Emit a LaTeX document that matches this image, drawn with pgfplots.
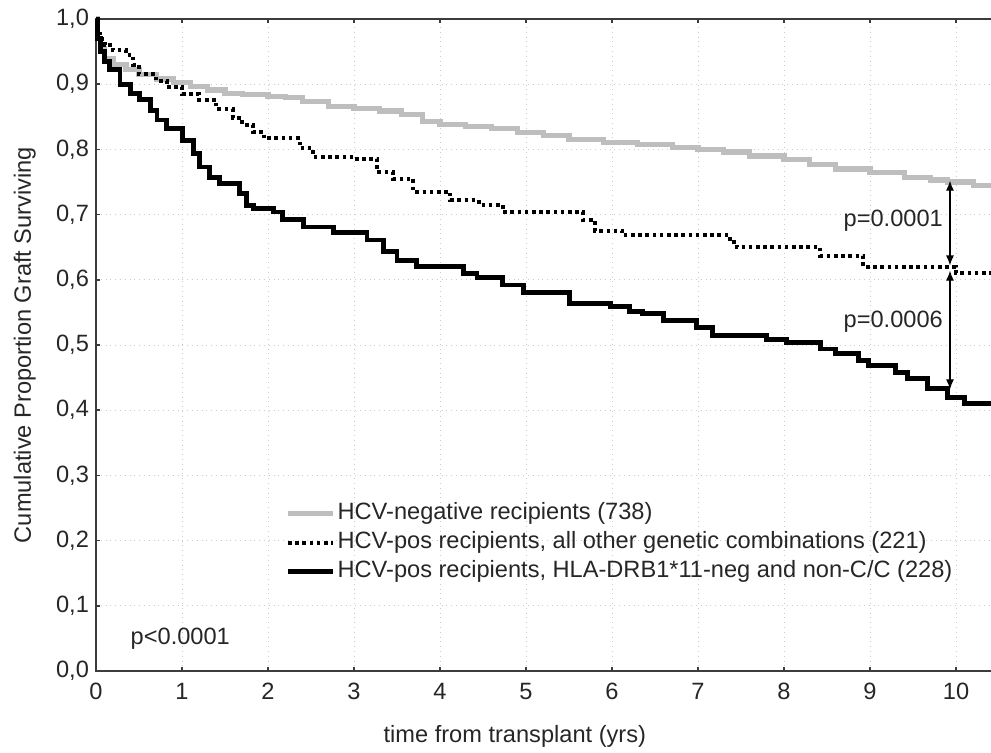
\documentclass[border=0pt]{standalone}
\usepackage{pgfplots}
\pgfplotsset{compat=1.18}
\usetikzlibrary{arrows.meta}
\usepackage{fontspec}
\setmainfont{Liberation Sans}
\definecolor{axgray}{RGB}{60,60,60}
\definecolor{negline}{RGB}{190,190,190}
\newcommand{\cf}{\fontsize{11.8}{13}\selectfont}
\begin{document}
\begin{tikzpicture}
\begin{axis}[
  name=ax,
  scale only axis,
  width=451.5pt, height=326pt,
  xmin=0, xmax=10.5, ymin=0, ymax=1,
  xtick={0,1,...,10}, ytick={0,0.1,...,1.0},
  /pgf/number format/assume math mode=true,
  yticklabel style={/pgf/number format/.cd, use comma, fixed, fixed zerofill, precision=1},
  xticklabel style={yshift=-2.5pt},
  tick label style={font=\cf, text=black!85},
  tick style={axgray, line width=0.8pt},
  major tick length=2pt,
  axis line style={axgray, line width=1pt},
  grid=major,
  major grid style={dotted, gray!40, line width=0.4pt},
  clip=false,
  legend cell align=left,
  legend style={draw=none, fill=none, inner sep=0pt, at={(axis cs:2.198,0.262)}, anchor=north west,
    font=\cf, row sep=1.3pt, text=black!85,
    nodes={inner sep=1pt, text height=8.6pt, text depth=2.6pt}},
  legend image code/.code={\draw[#1] (0pt,0pt) -- (22.5pt,0pt);},
]
\addplot[const plot, negline, line width=2.6pt] coordinates {
(0,1.0) (0.02,0.97) (0.05,0.955) (0.1,0.94) (0.2,0.93) (0.35,0.922) (0.5,0.915) (0.7,0.908) (0.9,0.902)
(1.1,0.896) (1.3,0.891) (1.5,0.886) (1.7,0.884) (2.0,0.881) (2.2,0.879) (2.4,0.873) (2.7,0.866) (3.0,0.863)
(3.3,0.859) (3.55,0.853) (3.8,0.843) (4.0,0.838) (4.3,0.835) (4.6,0.832) (4.9,0.826) (5.2,0.821) (5.5,0.815)
(5.9,0.810) (6.3,0.807) (6.7,0.803) (7.0,0.800) (7.3,0.796) (7.6,0.790) (8.0,0.784) (8.3,0.777) (8.6,0.770)
(9.0,0.765) (9.4,0.757) (9.7,0.753) (9.9,0.750) (10.2,0.744) (10.5,0.744)
};
\addlegendentry{HCV-negative recipients (738)}
\addplot[const plot, black, line width=2pt, dash pattern=on 1.8pt off 1.8pt] coordinates {
(0,0.985) (0.05,0.97) (0.1,0.96) (0.2,0.952) (0.35,0.945) (0.43,0.93) (0.5,0.915) (0.7,0.905) (0.82,0.895)
(1.0,0.885) (1.2,0.876) (1.4,0.862) (1.59,0.848) (1.7,0.838) (1.82,0.827) (1.95,0.817) (2.37,0.802) (2.52,0.789)
(3.0,0.786) (3.27,0.765) (3.45,0.755) (3.69,0.735) (4.12,0.722) (4.45,0.715) (4.73,0.704)
(5.66,0.692) (5.8,0.675) (6.12,0.668) (7.37,0.658) (7.45,0.650) (8.42,0.637) (8.92,0.620)
(10.0,0.61) (10.5,0.61)
};
\addlegendentry{HCV-pos recipients, all other genetic combinations (221)}
\addplot[const plot, black, line width=2.4pt] coordinates {
(0,1.0) (0.02,0.97) (0.05,0.95) (0.1,0.935) (0.16,0.922) (0.28,0.90) (0.4,0.886) (0.51,0.876) (0.63,0.86)
(0.71,0.845) (0.82,0.832) (1.01,0.814) (1.13,0.794) (1.2,0.773) (1.32,0.757) (1.44,0.748) (1.67,0.732)
(1.75,0.714) (1.83,0.709) (2.06,0.704) (2.17,0.692) (2.41,0.681) (2.76,0.672) (3.15,0.661)
(3.34,0.643) (3.5,0.63) (3.73,0.620) (4.27,0.61) (4.43,0.603) (4.73,0.592)
(4.97,0.58) (5.51,0.564) (5.98,0.559) (6.2,0.551) (6.35,0.548) (6.6,0.538) (6.98,0.527) (7.17,0.515)
(7.8,0.509) (8.03,0.504) (8.42,0.494) (8.6,0.487) (8.87,0.476) (8.98,0.468) (9.3,0.458) (9.44,0.448)
(9.67,0.433) (9.9,0.42) (10.1,0.41) (10.5,0.41)
};
\addlegendentry{HCV-pos recipients, HLA-DRB1*11-neg and non-C/C (228)}
\addplot[forget plot, black, line width=0.6pt, {Latex[length=5pt,width=4pt]}-{Latex[length=5pt,width=4pt]}] coordinates {(9.93,0.752) (9.93,0.622)};
\addplot[forget plot, black, line width=0.6pt, {Latex[length=5pt,width=4pt]}-{Latex[length=5pt,width=4pt]}] coordinates {(9.93,0.614) (9.93,0.432)};
\node[font=\cf, text=black!85] at (axis cs:9.27,0.691) {p=0.0001};
\node[font=\cf, text=black!85] at (axis cs:9.27,0.535) {p=0.0006};
\node[font=\cf, text=black!85] at (axis cs:0.98,0.049) {p<0.0001};
\node[font=\cf, text=black!85, anchor=base] at ([yshift=-36pt]axis cs:4.87,0) {time from transplant (yrs)};
\node[font=\cf, text=black!85, anchor=base, rotate=90] at ([xshift=-32.5pt]axis cs:0,0.5) {Cumulative Proportion Graft Surviving};
\end{axis}
\pgfresetboundingbox
\path[use as bounding box] ([xshift=-48pt,yshift=-41pt]ax.south west) rectangle ([xshift=447.5pt,yshift=9.5pt]ax.north west);
\end{tikzpicture}
\end{document}
